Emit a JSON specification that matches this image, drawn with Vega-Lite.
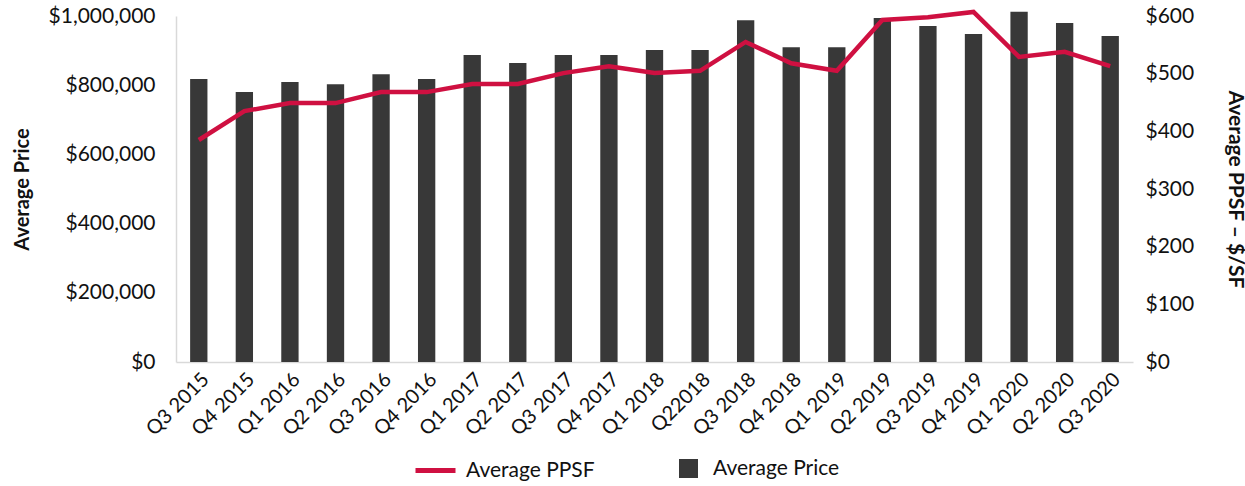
{
  "$schema": "https://vega.github.io/schema/vega-lite/v6.json",
  "autosize": {"type": "none"},
  "width": 957,
  "height": 346,
  "padding": {"left": 176, "top": 16, "right": 112, "bottom": 124},
  "config": {
    "font": "Lato",
    "view": {"stroke": null},
    "axis": {"labelFont": "Lato", "titleFont": "Lato", "labelColor": "#111111", "titleColor": "#111111", "grid": false, "ticks": false}
  },
  "data": {
    "values": [
      {"q": "Q3 2015", "price": 818000, "ppsf": 385},
      {"q": "Q4 2015", "price": 780000, "ppsf": 435},
      {"q": "Q1 2016", "price": 809000, "ppsf": 449},
      {"q": "Q2 2016", "price": 803000, "ppsf": 449},
      {"q": "Q3 2016", "price": 832000, "ppsf": 468},
      {"q": "Q4 2016", "price": 818000, "ppsf": 468},
      {"q": "Q1 2017", "price": 887000, "ppsf": 482},
      {"q": "Q2 2017", "price": 864000, "ppsf": 482},
      {"q": "Q3 2017", "price": 887000, "ppsf": 501},
      {"q": "Q4 2017", "price": 887000, "ppsf": 513},
      {"q": "Q1 2018", "price": 902000, "ppsf": 501},
      {"q": "Q22018", "price": 902000, "ppsf": 505},
      {"q": "Q3 2018", "price": 988000, "ppsf": 555},
      {"q": "Q4 2018", "price": 910000, "ppsf": 518},
      {"q": "Q1 2019", "price": 910000, "ppsf": 505},
      {"q": "Q2 2019", "price": 994000, "ppsf": 593},
      {"q": "Q3 2019", "price": 971000, "ppsf": 598},
      {"q": "Q4 2019", "price": 948000, "ppsf": 607},
      {"q": "Q1 2020", "price": 1012000, "ppsf": 529},
      {"q": "Q2 2020", "price": 980000, "ppsf": 538},
      {"q": "Q3 2020", "price": 942000, "ppsf": 513}
    ]
  },
  "encoding": {
    "x": {
      "field": "q", "type": "nominal", "sort": null,
      "scale": {"paddingInner": 0.62, "paddingOuter": 0.31},
      "axis": {"title": null, "labelAngle": -45, "labelFontSize": 20, "labelPadding": 7, "domainColor": "#d9d9d9", "domainWidth": 1.5}
    }
  },
  "layer": [
    {
      "mark": {"type": "bar", "color": "#383838"},
      "encoding": {
        "y": {
          "field": "price", "type": "quantitative",
          "scale": {"domain": [0, 1000000], "nice": false},
          "axis": {"title": "Average Price", "titleFontSize": 20, "titleFontWeight": "bold", "titlePadding": 16,
                   "values": [0, 200000, 400000, 600000, 800000, 1000000], "format": "$,.0f",
                   "labelFontSize": 21, "labelPadding": 21, "domainColor": "#d9d9d9", "domainWidth": 1.5}
        },
        "fill": {
          "datum": "Average Price",
          "scale": {"range": ["#383838"]},
          "legend": {"title": null, "orient": "none", "legendX": 502, "legendY": 442, "symbolType": "square", "symbolSize": 361, "labelFontSize": 21, "labelOffset": 14, "labelColor": "#111111", "labelFont": "Lato", "symbolStrokeWidth": 0}
        }
      }
    },
    {
      "mark": {"type": "line", "color": "#cf1041", "strokeWidth": 4.5},
      "encoding": {
        "y": {
          "field": "ppsf", "type": "quantitative",
          "scale": {"domain": [0, 600], "nice": false},
          "axis": {"orient": "right", "title": "Average PPSF  –  $/SF", "titleFontSize": 21, "titleFontWeight": "bold", "titlePadding": 31,
                   "values": [0, 100, 200, 300, 400, 500, 600], "format": "$,.0f",
                   "labelFontSize": 21, "labelPadding": 12, "domain": false}
        },
        "stroke": {
          "datum": "Average PPSF",
          "scale": {"range": ["#cf1041"]},
          "legend": {"title": null, "orient": "none", "legendX": 237, "legendY": 432, "symbolType": "stroke", "symbolSize": 1600, "symbolStrokeWidth": 5, "labelFontSize": 21, "labelOffset": 8, "labelColor": "#111111", "labelFont": "Lato"}
        }
      }
    }
  ],
  "resolve": {"scale": {"y": "independent"}}
}
